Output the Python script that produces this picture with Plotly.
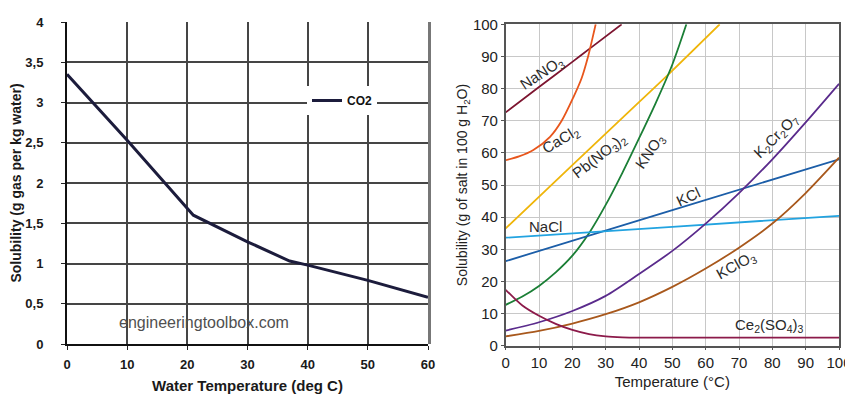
import plotly.graph_objects as go

# ---------------- Left chart: CO2 solubility ----------------
co2_temp = [0, 10, 21, 25, 30, 37, 40, 50, 60]
co2_sol = [3.35, 2.53, 1.60, 1.45, 1.27, 1.03, 0.98, 0.79, 0.58]
left_yticks = [0, 0.5, 1, 1.5, 2, 2.5, 3, 3.5, 4]
left_yticktext = ["0", "0,5", "1", "1,5", "2", "2,5", "3", "3,5", "4"]
left_xticks = [0, 10, 20, 30, 40, 50, 60]

# ---------------- Right chart: salt solubility curves ----------------
nano3_t = [0, 10, 20, 25.3, 34.8]
nano3_s = [72.6, 80.5, 88.3, 92.5, 100]
cacl2_t = [0, 4, 8.3, 13.3, 16.8, 20.3, 22.8, 24.8, 25.8, 27]
cacl2_s = [57.7, 58.9, 60.9, 65.0, 70.0, 77.3, 83.3, 90.3, 94.6, 100]
pbno3_t = [0, 20, 40, 48.6, 64.2]
pbno3_s = [36.5, 56.2, 75.8, 84.2, 100]
kno3_t = [0, 5, 10, 15, 20, 25, 30, 35, 40, 45, 50, 54.2]
kno3_s = [12.7, 15.3, 18.6, 22.8, 28, 35, 43.8, 53.8, 64.5, 75.5, 87.5, 100]
kcl_t = [0, 50, 100]
kcl_s = [26.3, 42.2, 58]
nacl_t = [0, 50, 100]
nacl_s = [33.6, 37.0, 40.4]
k2cr2o7_t = [0, 10, 20, 30, 40, 50, 60, 70, 80, 90, 100]
k2cr2o7_s = [4.7, 7.3, 10.8, 15.5, 22.3, 29.5, 38, 47.5, 58, 69.5, 81.5]
kclo3_t = [0, 10, 20, 30, 40, 50, 60, 70, 80, 90, 100]
kclo3_s = [2.9, 4.6, 6.9, 9.8, 13.5, 18.3, 24, 30.5, 38, 47.5, 58.5]
ce2so43_t = [0, 5, 10, 15, 20, 25, 30, 35, 40, 60, 80, 100]
ce2so43_s = [17.4, 12.5, 9.3, 6.8, 4.9, 3.6, 2.9, 2.6, 2.5, 2.5, 2.5, 2.5]
right_ticks = [0, 10, 20, 30, 40, 50, 60, 70, 80, 90, 100]

series = [
    ("NaNO3", nano3_t, nano3_s, "#7d1530"),
    ("CaCl2", cacl2_t, cacl2_s, "#e8561c"),
    ("Pb(NO3)2", pbno3_t, pbno3_s, "#efb50a"),
    ("KNO3", kno3_t, kno3_s, "#1b7f36"),
    ("KCl", kcl_t, kcl_s, "#1c5ea8"),
    ("NaCl", nacl_t, nacl_s, "#22a3e0"),
    ("K2Cr2O7", k2cr2o7_t, k2cr2o7_s, "#5a2b8c"),
    ("KClO3", kclo3_t, kclo3_s, "#a8581c"),
    ("Ce2(SO4)3", ce2so43_t, ce2so43_s, "#8c1a4a"),
]

# label: text, x, y, angle
labels = [
    ("NaNO<sub>3</sub>", 10.8, 84.8, -33),
    ("CaCl<sub>2</sub>", 16.3, 64.0, -31),
    ("Pb(NO<sub>3</sub>)<sub>2</sub>", 28.0, 59.0, -38),
    ("KNO<sub>3</sub>", 43.4, 60.4, -55),
    ("K<sub>2</sub>Cr<sub>2</sub>O<sub>7</sub>", 81.2, 65.0, -45),
    ("KCl", 54.8, 46.5, -25),
    ("NaCl", 11.8, 37.2, 0),
    ("KClO<sub>3</sub>", 69.2, 25.1, -29),
    ("Ce<sub>2</sub>(SO<sub>4</sub>)<sub>3</sub>", 79.2, 6.2, 0),
]

# page body has an 8px margin: draw an 845x393 figure offset by (8, 8)
OX, OY = 8, 8
W, H = 853 - OX, 401 - OY


def px(x):
    return (x - OX) / W


def py(y):
    return 1 - (y - OY) / H


fig = go.Figure()

fig.add_trace(go.Scatter(
    x=co2_temp, y=co2_sol, mode="lines", name="CO2",
    line=dict(color="#1c1c3c", width=3), xaxis="x", yaxis="y",
    showlegend=True,
))

for name, t, s, c in series:
    fig.add_trace(go.Scatter(
        x=t, y=s, mode="lines", name=name,
        line=dict(color=c, width=1.8, shape="spline", smoothing=0.8),
        xaxis="x2", yaxis="y2", showlegend=False,
    ))

annotations = []
for txt, x, y, ang in labels:
    annotations.append(dict(
        text=txt, x=x, y=y, xref="x2", yref="y2", showarrow=False,
        textangle=ang, font=dict(family="Liberation Sans, Arial", size=15, color="#2a2a2a"),
    ))

annotations.append(dict(
    text="engineeringtoolbox.com", x=px(204), y=py(322), xref="paper", yref="paper",
    xanchor="center", yanchor="middle",
    showarrow=False, font=dict(family="Liberation Sans, Arial", size=16, color="#505050"),
))

fig.update_layout(
    width=W, height=H,
    margin=dict(l=0, r=0, t=0, b=0, autoexpand=False),
    paper_bgcolor="white", plot_bgcolor="white",
    annotations=annotations,
    xaxis=dict(
        domain=[px(67), px(428)], range=[0, 60], tickvals=left_xticks,
        showgrid=True, gridcolor="#454545", gridwidth=1.5,
        showline=True, linecolor="#111111", linewidth=2,
        ticks="outside", ticklen=4, tickcolor="#222", ticklabelstandoff=3,
        tickfont=dict(family="Liberation Sans, Arial", size=13, color="#1a1a1a", weight="bold"),
        title=dict(text="<b>Water Temperature (deg C)</b>",
                   font=dict(family="Liberation Sans, Arial", size=15, color="#1a1a1a"), standoff=10),
        zeroline=False, anchor="y", fixedrange=True, automargin=False,
    ),
    yaxis=dict(
        domain=[py(344), py(22)], range=[0, 4], tickvals=left_yticks,
        ticktext=["<b>%s</b>" % t for t in left_yticktext],
        showgrid=True, gridcolor="#454545", gridwidth=1.5,
        showline=True, linecolor="#111111", linewidth=2,
        ticks="outside", ticklen=4, tickcolor="#222", ticklabelstandoff=15,
        tickfont=dict(family="Liberation Sans, Arial", size=13, color="#1a1a1a"),
        title=dict(text="<b>Solubility (g gas per kg water)</b>",
                   font=dict(family="Liberation Sans, Arial", size=14, color="#1a1a1a"), standoff=7),
        zeroline=False, anchor="x", fixedrange=True, automargin=False,
    ),
    xaxis2=dict(
        domain=[px(505.7), px(839)], range=[0, 100], tickvals=right_ticks,
        showgrid=True, gridcolor="#c8c8c8", gridwidth=1,
        showline=True, linecolor="#555555", linewidth=1.5, mirror=True,
        ticks="outside", ticklen=3, tickcolor="#555",
        tickfont=dict(family="Liberation Sans, Arial", size=15, color="#222"),
        title=dict(text="Temperature (°C)", font=dict(family="Liberation Sans, Arial", size=15, color="#222"), standoff=6),
        zeroline=False, anchor="y2", fixedrange=True, automargin=False,
    ),
    yaxis2=dict(
        domain=[py(345.7), py(24.3)], range=[0, 100], tickvals=right_ticks,
        showgrid=True, gridcolor="#c8c8c8", gridwidth=1,
        showline=True, linecolor="#555555", linewidth=1.5, mirror=True,
        ticks="outside", ticklen=3, tickcolor="#555",
        tickfont=dict(family="Liberation Sans, Arial", size=15, color="#222"),
        title=dict(text="Solubility (g of salt in 100 g H<sub>2</sub>O)", font=dict(family="Liberation Sans, Arial", size=14, color="#222"), standoff=2),
        zeroline=False, anchor="x2", fixedrange=True, automargin=False,
    ),
    legend=dict(
        x=px(307), y=py(86), xanchor="left", yanchor="top",
        bgcolor="white", borderwidth=0,
        font=dict(family="Liberation Sans, Arial", size=12, color="#111", weight="bold"),
        itemwidth=30, tracegroupgap=0,
    ),
)

# right border of left chart
fig.add_shape(type="line", xref="paper", yref="paper",
              x0=px(429.5), x1=px(429.5), y0=py(344), y1=py(22),
              line=dict(color="#777777", width=3))

fig.write_html("out.html")
